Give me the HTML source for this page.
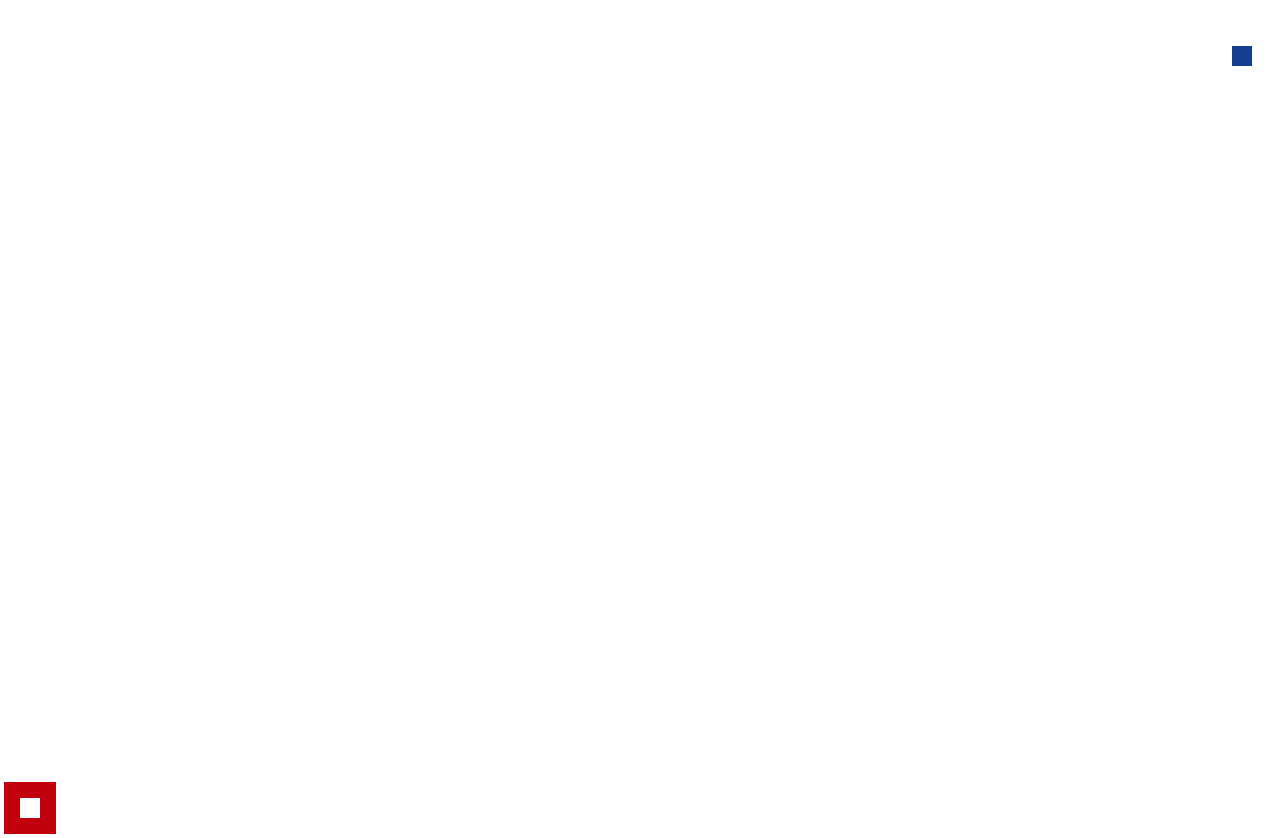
<!DOCTYPE html>
<html><head><meta charset="utf-8"><style>
html,body{margin:0;padding:0;background:#fff;width:1272px;height:838px;overflow:hidden;position:relative}
div{position:absolute}
</style></head><body>
<div style="left:1232px;top:46px;width:20px;height:20px;background:#16408f"></div>
<div style="left:4px;top:782px;width:52px;height:52px;background:#c0000b">
<div style="left:16px;top:16px;width:20px;height:20px;background:#fff"></div>
</div>
</body></html>
